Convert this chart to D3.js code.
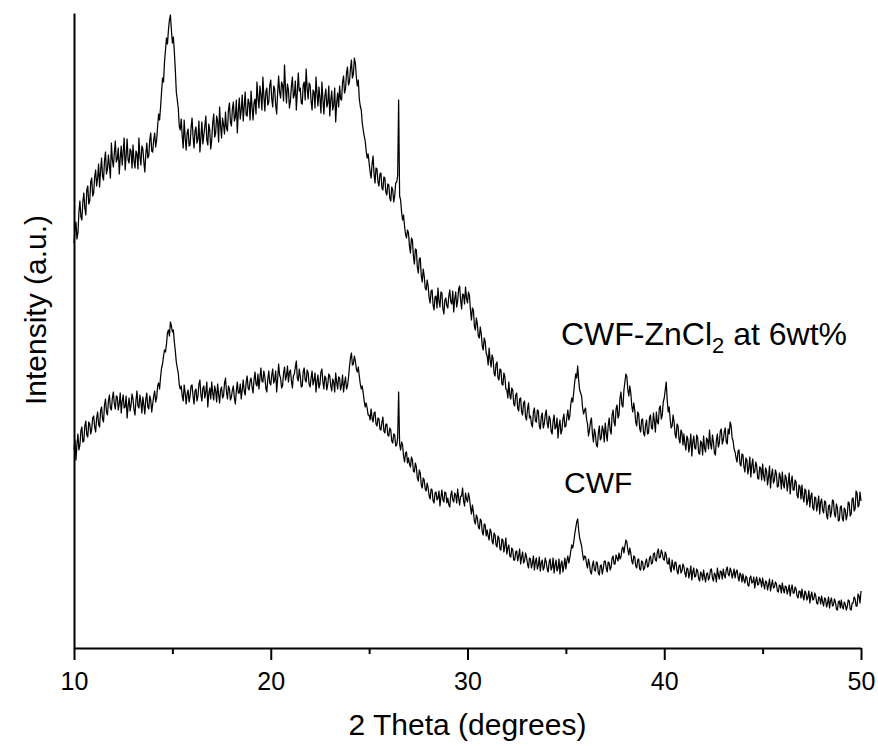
<!DOCTYPE html>
<html>
<head>
<meta charset="utf-8">
<script src="https://cdn.jsdelivr.net/npm/d3@7"></script>
<style>
  html, body { margin: 0; padding: 0; background: #fff; }
  svg { display: block; }
  text { font-family: "Liberation Sans", Arial, sans-serif; fill: #000; }
</style>
</head>
<body>
<div id="chart"></div>
<script>
// sampling grid of the scans (degrees 2θ)
const thetaStart = 10;
const thetaStep = 0.05;

const xTicksMajor = [10, 20, 30, 40, 50];
const xTicksMinor = [15, 25, 35, 45];

// CWF-ZnCl2 at 6wt% (upper trace), intensity a.u., one row per degree
const zncl2Intensity = [
  405, 418, 426, 409, 415, 436, 447, 431, 428, 446, 455, 440, 433, 458, 462, 444, 447, 466, 470, 452,
  455, 471, 478, 462, 470, 484, 461, 477, 490, 472, 468, 487, 496, 474, 479, 493, 482, 470, 505, 488,
  481, 495, 507, 486, 489, 500, 474, 490, 502, 483, 496, 510, 478, 492, 509, 488, 485, 499, 497, 480,
  503, 487, 480, 497, 494, 479, 510, 491, 483, 502, 499, 486, 476, 494, 505, 490, 492, 508, 515, 497,
  496, 508, 515, 501, 508, 522, 534, 528, 541, 556, 570, 566, 586, 598, 610, 604, 618, 628, 633, 618,
  605, 611, 596, 578, 556, 548, 540, 522, 518, 529, 512, 500, 528, 510, 498, 515, 519, 502, 503, 520,
  530, 512, 500, 517, 521, 505, 509, 527, 496, 511, 526, 504, 513, 522, 532, 508, 503, 524, 518, 499,
  508, 525, 534, 511, 515, 532, 527, 506, 541, 522, 510, 530, 523, 514, 536, 520, 517, 538, 545, 526,
  522, 539, 546, 527, 531, 548, 515, 536, 550, 529, 538, 553, 527, 541, 556, 533, 532, 549, 545, 528,
  557, 541, 528, 545, 549, 534, 566, 550, 540, 562, 553, 538, 571, 552, 537, 556, 560, 543, 546, 563,
  568, 549, 541, 562, 559, 543, 534, 555, 572, 556, 550, 566, 563, 547, 583, 560, 545, 564, 558, 540,
  547, 562, 571, 550, 553, 567, 538, 556, 575, 557, 560, 545, 544, 563, 566, 548, 579, 560, 549, 565,
  563, 547, 538, 558, 556, 540, 571, 555, 542, 561, 550, 535, 566, 549, 534, 552, 559, 541, 545, 562,
  532, 548, 557, 538, 543, 560, 526, 545, 555, 541, 562, 549, 548, 566, 572, 555, 559, 575, 581, 563,
  566, 579, 588, 570, 574, 590, 585, 571, 562, 568, 549, 542, 538, 525, 518, 512, 507, 497, 490, 494,
  485, 476, 470, 484, 492, 474, 465, 480, 479, 466, 462, 474, 475, 460, 458, 471, 470, 456, 453, 464,
  463, 450, 447, 461, 458, 446, 452, 465, 466, 472, 548, 452, 448, 436, 428, 433, 422, 414, 410, 418,
  415, 402, 395, 410, 408, 392, 384, 399, 398, 381, 375, 389, 390, 372, 366, 379, 372, 360, 358, 368,
  362, 350, 345, 357, 358, 343, 338, 351, 352, 340, 360, 347, 341, 356, 355, 339, 334, 348, 350, 342,
  340, 352, 358, 346, 344, 357, 336, 349, 356, 341, 347, 359, 362, 348, 339, 354, 353, 344, 361, 350,
  345, 356, 352, 338, 328, 340, 338, 322, 318, 330, 324, 312, 310, 321, 314, 302, 298, 310, 306, 295,
  292, 283, 300, 288, 281, 293, 289, 275, 272, 284, 286, 270, 268, 279, 278, 264, 263, 275, 271, 259,
  258, 250, 266, 253, 249, 260, 258, 244, 242, 253, 255, 240, 237, 249, 250, 236, 233, 245, 247, 231,
  228, 239, 245, 230, 232, 224, 221, 236, 240, 227, 226, 238, 237, 222, 219, 231, 235, 220, 224, 233,
  238, 225, 220, 232, 229, 217, 214, 227, 233, 219, 221, 230, 210, 222, 228, 214, 218, 229, 234, 221,
  222, 231, 238, 228, 232, 244, 250, 246, 256, 266, 274, 270, 282, 268, 258, 255, 252, 240, 234, 238,
  240, 229, 224, 212, 218, 226, 230, 214, 206, 219, 214, 203, 201, 215, 222, 208, 210, 222, 218, 206,
  225, 215, 207, 222, 230, 218, 214, 233, 238, 226, 222, 239, 243, 230, 233, 250, 256, 243, 241, 258,
  266, 274, 271, 258, 252, 262, 255, 242, 236, 245, 238, 226, 222, 236, 234, 220, 216, 228, 229, 215,
  212, 223, 228, 214, 215, 230, 233, 220, 219, 235, 227, 216, 236, 226, 224, 240, 242, 229, 233, 246,
  250, 258, 266, 248, 236, 241, 229, 220, 222, 233, 226, 214, 210, 224, 222, 209, 205, 218, 215, 203,
  214, 204, 198, 212, 209, 196, 203, 214, 192, 206, 212, 200, 199, 213, 210, 195, 194, 207, 205, 193,
  212, 200, 196, 210, 208, 199, 218, 204, 199, 213, 206, 195, 193, 208, 214, 201, 205, 217, 219, 204,
  208, 216, 220, 206, 204, 219, 214, 226, 222, 210, 207, 199, 196, 190, 186, 197, 198, 184, 182, 194,
  193, 181, 176, 190, 188, 174, 180, 191, 171, 183, 189, 175, 176, 186, 182, 170, 169, 181, 180, 168,
  184, 172, 167, 180, 177, 163, 171, 182, 160, 173, 179, 165, 168, 178, 174, 161, 162, 175, 171, 159,
  176, 164, 160, 173, 170, 157, 165, 175, 154, 166, 172, 158, 158, 168, 166, 153, 150, 163, 161, 149,
  163, 151, 146, 159, 157, 143, 148, 158, 141, 152, 155, 140, 138, 151, 150, 137, 144, 152, 134, 146,
  149, 138, 135, 147, 146, 133, 129, 142, 143, 131, 136, 148, 147, 134, 131, 144, 140, 127, 128, 141,
  142, 130, 127, 140, 138, 128, 133, 146, 145, 132, 134, 149, 150, 137, 139, 157, 155, 141, 143, 156,
  147
];

// CWF (lower trace)
const cwfIntensity = [
  199, 208, 188, 204, 214, 198, 203, 217, 221, 206, 207, 222, 227, 213, 211, 226, 224, 214, 219, 230,
  232, 221, 216, 230, 236, 224, 221, 237, 241, 229, 226, 243, 249, 236, 233, 247, 253, 240, 238, 250,
  256, 244, 239, 252, 251, 238, 244, 255, 235, 247, 253, 240, 241, 252, 230, 242, 250, 237, 243, 254,
  249, 238, 233, 248, 257, 242, 240, 253, 246, 235, 251, 243, 234, 249, 255, 241, 239, 252, 248, 236,
  244, 252, 257, 246, 250, 262, 265, 259, 271, 280, 284, 292, 298, 296, 304, 315, 318, 312, 326, 322,
  316, 318, 306, 297, 286, 280, 275, 263, 259, 262, 252, 247, 263, 255, 244, 254, 258, 246, 252, 262,
  263, 252, 244, 257, 259, 247, 252, 264, 268, 253, 247, 260, 262, 250, 256, 266, 241, 254, 260, 249,
  266, 255, 248, 262, 257, 246, 264, 254, 245, 258, 261, 250, 252, 265, 270, 256, 249, 262, 259, 248,
  251, 258, 262, 250, 244, 257, 266, 255, 255, 264, 249, 258, 268, 257, 253, 266, 272, 260, 258, 267,
  270, 261, 255, 268, 276, 264, 262, 274, 259, 270, 280, 267, 266, 277, 271, 260, 256, 269, 277, 265,
  263, 273, 279, 265, 268, 277, 256, 269, 284, 273, 270, 260, 262, 275, 281, 268, 272, 282, 266, 276,
  278, 267, 260, 272, 274, 281, 287, 270, 267, 279, 272, 261, 262, 276, 280, 268, 266, 278, 275, 264,
  261, 270, 277, 263, 268, 275, 256, 267, 273, 260, 264, 276, 279, 266, 259, 272, 270, 258, 264, 274,
  272, 262, 257, 269, 266, 256, 275, 266, 259, 271, 270, 258, 263, 273, 256, 265, 271, 259, 262, 270,
  281, 290, 295, 283, 284, 292, 287, 279, 276, 281, 272, 264, 259, 262, 255, 247, 241, 245, 240, 233,
  233, 228, 239, 230, 226, 235, 236, 224, 222, 230, 229, 219, 218, 226, 231, 217, 215, 224, 224, 213,
  212, 220, 218, 207, 205, 214, 213, 202, 203, 210, 256, 204, 198, 206, 203, 192, 186, 195, 196, 185,
  190, 184, 181, 191, 188, 177, 176, 185, 181, 170, 167, 178, 175, 163, 160, 170, 168, 159, 157, 165,
  160, 152, 149, 159, 158, 147, 145, 155, 156, 148, 150, 157, 142, 151, 158, 148, 146, 156, 155, 145,
  150, 143, 141, 153, 157, 148, 146, 155, 153, 145, 159, 150, 143, 152, 152, 160, 147, 142, 155, 149,
  146, 155, 150, 141, 134, 143, 136, 127, 124, 133, 130, 121, 119, 129, 127, 116, 113, 124, 123, 112,
  118, 112, 108, 119, 116, 107, 104, 115, 113, 103, 101, 112, 110, 99, 98, 109, 108, 96, 102, 110,
  94, 100, 103, 92, 91, 100, 98, 88, 88, 96, 97, 87, 92, 99, 84, 91, 96, 85, 87, 95,
  91, 84, 80, 90, 89, 80, 85, 92, 78, 86, 90, 79, 83, 91, 77, 85, 88, 78, 81, 90,
  86, 79, 76, 86, 89, 78, 81, 90, 75, 83, 88, 77, 80, 89, 74, 84, 87, 76, 82, 90,
  79, 87, 92, 85, 90, 97, 103, 100, 106, 114, 120, 126, 129, 118, 110, 106, 102, 94, 88, 92,
  91, 84, 80, 89, 84, 76, 74, 83, 87, 78, 77, 86, 85, 75, 73, 82, 83, 74, 79, 87,
  87, 80, 76, 86, 85, 78, 81, 90, 92, 84, 84, 93, 90, 87, 95, 89, 91, 99, 101, 95,
  102, 108, 106, 98, 93, 100, 95, 87, 84, 92, 91, 82, 80, 88, 89, 79, 78, 87, 86, 78,
  80, 86, 89, 81, 82, 90, 92, 84, 85, 94, 95, 88, 87, 96, 99, 90, 91, 98, 95, 89,
  88, 96, 93, 85, 84, 90, 80, 76, 88, 82, 78, 86, 85, 77, 74, 82, 83, 75, 77, 84,
  81, 75, 71, 80, 79, 70, 75, 82, 68, 76, 80, 71, 72, 79, 77, 69, 67, 76, 74, 68,
  78, 71, 66, 74, 75, 68, 71, 78, 79, 70, 67, 75, 73, 66, 80, 73, 69, 77, 76, 69,
  79, 73, 70, 78, 81, 74, 72, 80, 77, 70, 74, 79, 70, 76, 78, 71, 67, 75, 73, 66,
  74, 68, 65, 72, 70, 63, 62, 70, 72, 65, 66, 71, 60, 67, 71, 63, 64, 70, 67, 61,
  70, 64, 59, 67, 66, 58, 63, 69, 57, 63, 68, 60, 61, 66, 64, 57, 56, 63, 62, 55,
  65, 59, 55, 62, 61, 54, 58, 63, 52, 59, 63, 55, 55, 61, 59, 52, 50, 57, 57, 50,
  59, 52, 48, 57, 55, 48, 51, 57, 45, 52, 56, 48, 49, 55, 52, 45, 44, 51, 50, 44,
  52, 46, 42, 50, 49, 41, 45, 51, 40, 47, 50, 42, 43, 49, 46, 39, 38, 46, 47, 40,
  48, 41, 39, 46, 44, 38, 41, 48, 47, 39, 38, 45, 45, 51, 49, 42, 42, 54, 52, 45,
  57
];

const width = 878, height = 746;
const plot = { left: 74, right: 861, top: 13, bottom: 648 };

const svg = d3.select('#chart').append('svg')
  .attr('width', width)
  .attr('height', height);

const x = d3.scaleLinear().domain([10, 50]).range([plot.left, plot.right]);
const y = d3.scaleLinear().domain([0, 635]).range([plot.bottom, plot.top]);

const toPoints = vals => vals.map((v, i) => ({ theta: thetaStart + i * thetaStep, v }));

const line = d3.line()
  .x(d => x(d.theta))
  .y(d => y(d.v));

// traces
svg.append('g').attr('class', 'traces')
  .selectAll('path')
  .data([toPoints(zncl2Intensity), toPoints(cwfIntensity)])
  .join('path')
  .attr('fill', 'none')
  .attr('stroke', '#000')
  .attr('stroke-width', 1.25)
  .attr('stroke-linejoin', 'round')
  .attr('d', line);

// axes
const xAxisG = svg.append('g')
  .attr('transform', `translate(0,${plot.bottom})`)
  .call(d3.axisBottom(x).tickValues(xTicksMajor).tickSize(12).tickSizeOuter(0).tickPadding(12));
xAxisG.selectAll('text').attr('font-size', 25).attr('font-family', '"Liberation Sans", Arial, sans-serif');

const xMinorG = svg.append('g')
  .attr('transform', `translate(0,${plot.bottom})`)
  .call(d3.axisBottom(x).tickValues(xTicksMinor).tickSize(6).tickFormat(''));
xMinorG.select('.domain').remove();

svg.append('g')
  .attr('transform', `translate(${plot.left},0)`)
  .call(d3.axisLeft(y).tickValues([]).tickSizeOuter(0));

svg.selectAll('.domain, .tick line')
  .attr('stroke', '#000')
  .attr('stroke-width', 2);

// axis titles
svg.append('text')
  .attr('x', (plot.left + plot.right) / 2)
  .attr('y', 735)
  .attr('text-anchor', 'middle')
  .attr('font-size', 30)
  .text('2 Theta (degrees)');

svg.append('text')
  .attr('transform', 'rotate(-90)')
  .attr('x', -310)
  .attr('y', 46)
  .attr('text-anchor', 'middle')
  .attr('font-size', 30)
  .text('Intensity (a.u.)');

// trace labels
const lab1 = svg.append('text')
  .attr('x', 561)
  .attr('y', 345)
  .attr('font-size', 32);
lab1.append('tspan').text('CWF-ZnCl');
lab1.append('tspan').attr('font-size', 22).attr('dy', 8).text('2');
lab1.append('tspan').attr('dy', -8).text(' at 6wt%');

svg.append('text')
  .attr('x', 564)
  .attr('y', 493)
  .attr('font-size', 30)
  .text('CWF');
</script>
</body>
</html>
